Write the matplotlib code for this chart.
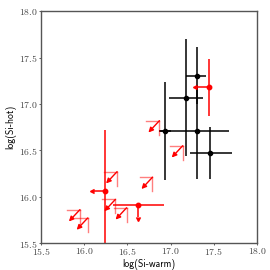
import matplotlib
matplotlib.use("Agg")
import matplotlib.pyplot as plt
import numpy as np

# detections (black)
black_x = [17.18, 17.30, 16.93, 17.31, 17.46]
black_y = [17.06, 17.30, 16.71, 16.71, 16.47]
black_xerr_lo = [0.20, 0.12, 0.07, 0.45, 0.24]
black_xerr_hi = [0.20, 0.11, 0.07, 0.36, 0.25]
black_yerr_lo = [0.62, 0.30, 0.53, 0.52, 0.28]
black_yerr_hi = [0.64, 0.32, 0.53, 0.50, 0.28]

# red points with one-sided limits
red_x = [17.44, 16.24, 16.62]
red_y = [17.18, 16.06, 15.91]
red_xerr_lo = [0.13, 0.13, 0.29]
red_xerr_hi = [0.00, 0.00, 0.30]
red_yerr_lo = [0.31, 0.66, 0.13]
red_yerr_hi = [0.31, 0.66, 0.00]
red_xuplim = [True, True, False]
red_yuplim = [False, False, True]

# upper limits on both axes (red corners)
lim_x = [15.95, 16.04, 16.36, 16.49, 16.38, 16.79, 17.14, 16.87]
lim_y = [15.86, 15.77, 15.97, 15.88, 16.27, 16.21, 16.55, 16.82]

RED = "#ff0000"

plt.rcParams["font.family"] = "cmr10"
plt.rcParams["axes.formatter.use_mathtext"] = True
plt.rcParams["lines.markersize"] = 3.5

fig = plt.figure(figsize=(2.7, 2.7), dpi=100)
ax = fig.add_axes([0.152, 0.10, 0.80, 0.858])

ax.errorbar(
    black_x, black_y,
    xerr=[black_xerr_lo, black_xerr_hi],
    yerr=[black_yerr_lo, black_yerr_hi],
    fmt="o", color="black", ms=3, elinewidth=1.1, capsize=0,
)

for i in range(len(red_x)):
    ax.errorbar(
        [red_x[i]], [red_y[i]],
        xerr=[[red_xerr_lo[i]], [red_xerr_hi[i]]],
        yerr=[[red_yerr_lo[i]], [red_yerr_hi[i]]],
        xuplims=[red_xuplim[i]], uplims=[red_yuplim[i]],
        fmt="o", color=RED, ms=3.2, elinewidth=1.1, capsize=0,
    )

# corner markers with diagonal arrows
d = 0.15
for x, y in zip(lim_x, lim_y):
    ax.plot([x - d, x], [y, y], color=RED, alpha=0.5, lw=1.0)
    ax.plot([x, x], [y, y - d], color=RED, alpha=0.5, lw=1.0)
    ax.annotate(
        "", xy=(x - d * 0.85, y - d * 0.85), xytext=(x, y),
        arrowprops=dict(arrowstyle="-|>", color=RED, lw=1.0,
                        mutation_scale=7, shrinkA=0, shrinkB=0),
    )

ax.set_xlim(15.5, 18.0)
ax.set_ylim(15.5, 18.0)
ax.set_xticks(np.arange(15.5, 18.01, 0.5))
ax.set_yticks(np.arange(15.5, 18.01, 0.5))
ax.tick_params(labelsize=7, length=1.5, width=0.6, pad=1, colors="#444444",
               labelcolor="#444444")
for spine in ax.spines.values():
    spine.set_color("#555555")
    spine.set_linewidth(1.0)

ax.set_xlabel("log(Si-warm)", fontsize=7, family="cmss10", labelpad=1)
ax.set_ylabel("log(Si-hot)", fontsize=7, family="cmss10", labelpad=2)

fig.savefig("out.png", dpi=100)
